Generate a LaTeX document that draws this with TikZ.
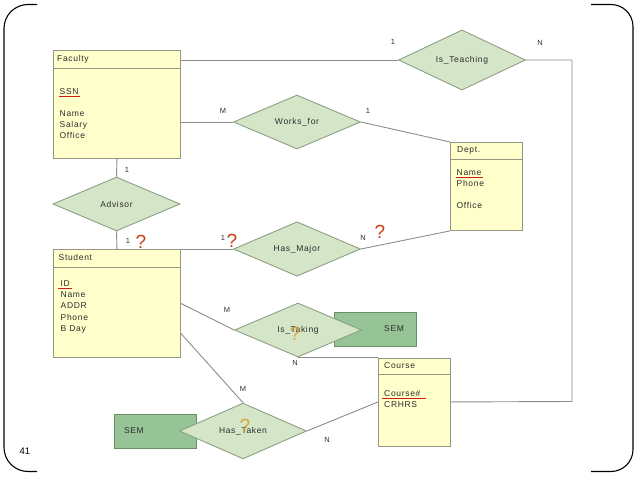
\documentclass[tikz,border=0pt]{standalone}
\usepackage{fontspec}
\setmainfont{Liberation Sans}
\newfontfamily\erfont{Liberation Sans}[LetterSpace=8]
\usetikzlibrary{shapes.geometric}

\definecolor{entfill}{RGB}{255,255,204}
\definecolor{entdraw}{RGB}{150,150,135}
\definecolor{relfill}{RGB}{212,229,200}
\definecolor{reldraw}{RGB}{140,160,130}
\definecolor{semfill}{RGB}{150,196,150}
\definecolor{semdraw}{RGB}{105,145,105}
\definecolor{linkgray}{RGB}{140,140,140}
\definecolor{keyred}{RGB}{205,30,20}
\definecolor{askred}{RGB}{200,60,20}
\definecolor{askgold}{RGB}{215,160,40}
\definecolor{txt}{RGB}{45,45,45}

\begin{document}
\begin{tikzpicture}[x=1pt, y=-1pt,
    entity/.style={draw=entdraw, fill=entfill, line width=0.9pt, inner sep=0pt,
      minimum width=127pt, minimum height=108pt, anchor=north west},
    etitle/.style={anchor=west, inner sep=0pt, text=txt, font=\erfont\fontsize{8.5}{10}\selectfont},
    eattr/.style={anchor=north west, inner sep=0pt, align=left, text=txt,
      font=\erfont\fontsize{8.5}{11.4}\selectfont},
    keyline/.style={draw=keyred, line width=0.8pt},
    rel/.style={diamond, draw=reldraw, fill=relfill, line width=0.9pt, inner sep=0pt,
      minimum width=127pt, minimum height=54pt, text=txt, font=\erfont\fontsize{8.5}{10}\selectfont},
    sembox/.style={draw=semdraw, fill=semfill, line width=0.9pt, inner ysep=0pt,
      minimum height=34pt, text=txt, font=\erfont\fontsize{8.5}{10}\selectfont},
    link/.style={draw=linkgray, line width=0.9pt},
    card/.style={inner sep=0pt, text=txt, font=\erfont\fontsize{7.5}{9}\selectfont},
    askr/.style={inner sep=0pt, text=askred, font=\fontsize{19}{20}\selectfont},
    askg/.style={inner sep=0pt, text=askgold, opacity=0.9, font=\fontsize{19}{20}\selectfont}]

  % slide frame
  \useasboundingbox (0,0) rectangle (638,479);
  \draw[line width=1.1pt, rounded corners=24pt] (37,4.5) -- (4,4.5) -- (4,471.5) -- (37,471.5);
  \draw[line width=1.1pt, rounded corners=22pt] (591,4.5) -- (633,4.5) -- (633,471.5) -- (591,471.5);
  \node[font=\fontsize{9.5}{10}\selectfont] (pageno) at (25,451) {41};

  % entities
  \node[entity] (fac) at (53,50) {};
  \draw[entdraw, line width=0.9pt] ([yshift=-18pt]fac.north west) -- ([yshift=-18pt]fac.north east);
  \node[etitle] (facT) at ([xshift=4pt, yshift=-9pt]fac.north west) {Faculty};
  \node[eattr] (facK) at ([xshift=6.5pt, yshift=-38pt]fac.north west) {SSN};
  \draw[keyline] ([xshift=-1pt, yshift=-2pt]facK.base west) -- ([xshift=1pt, yshift=-2pt]facK.base east);
  \node[eattr] (facA) at ([xshift=6.5pt, yshift=-60pt]fac.north west) {Name\\Salary\\Office};

  \node[entity, minimum width=72pt, minimum height=88pt] (dept) at (450,142) {};
  \draw[entdraw, line width=0.9pt] ([yshift=-17pt]dept.north west) -- ([yshift=-17pt]dept.north east);
  \node[etitle] (deptT) at ([xshift=7pt, yshift=-8.5pt]dept.north west) {Dept.};
  \node[eattr] (deptK) at ([xshift=6.5pt, yshift=-27pt]dept.north west) {Name};
  \draw[keyline] ([xshift=-1pt, yshift=-2pt]deptK.base west) -- ([xshift=1pt, yshift=-2pt]deptK.base east);
  \node[eattr] (deptA) at ([xshift=6.5pt, yshift=-38.5pt]dept.north west) {Phone\\[10.5pt]Office};

  \node[entity] (stu) at (53,249) {};
  \draw[entdraw, line width=0.9pt] ([yshift=-18pt]stu.north west) -- ([yshift=-18pt]stu.north east);
  \node[etitle] (stuT) at ([xshift=5.5pt, yshift=-8.5pt]stu.north west) {Student};
  \node[eattr] (stuK) at ([xshift=7.5pt, yshift=-31pt]stu.north west) {ID};
  \draw[keyline] ([xshift=-2.5pt, yshift=-2pt]stuK.base west) -- ([xshift=2pt, yshift=-2pt]stuK.base east);
  \node[eattr] (stuA) at ([xshift=7.5pt, yshift=-42.5pt]stu.north west) {Name\\ADDR\\Phone\\B Day};

  \node[entity, minimum width=72pt, minimum height=88pt] (course) at (378,357.5) {};
  \draw[entdraw, line width=0.9pt] ([yshift=-17pt]course.north west) -- ([yshift=-17pt]course.north east);
  \node[etitle] (courseT) at ([xshift=6pt, yshift=-8.5pt]course.north west) {Course};
  \node[eattr] (courseK) at ([xshift=6pt, yshift=-32.5pt]course.north west) {Course\#};
  \draw[keyline] ([xshift=-2pt, yshift=-2pt]courseK.base west) -- ([xshift=5pt, yshift=-2pt]courseK.base east);
  \node[eattr] (courseA) at ([xshift=6pt, yshift=-44pt]course.north west) {CRHRS};

  % weak parts
  \node[sembox, minimum width=82pt, text width=72pt, inner xsep=5pt, align=right] (semA) at (375,329) {SEM\hspace*{7pt}};
  \node[sembox, minimum width=82pt, text width=72pt, inner xsep=5pt, align=left] (semB) at (155,431) {\hspace*{5pt}SEM};

  % relationships
  \node[rel] (teach) at (462,60) {Is\_Teaching};
  \node[rel] (works) at (297,122) {Works\_for};
  \node[rel] (adv) at (116.5,204) {Advisor};
  \node[rel] (major) at (297,249) {Has\_Major};
  \node[rel] (taking) at (298,330) {Is\_Taking};
  \node[rel] (taken) at (243,431) {Has\_Taken};

  % connectors
  \coordinate (tcorner) at (572,401.5);
  \draw[link] (fac.east |- teach.west) -- (teach.west);
  \draw[link] (teach.east) -| (tcorner) -- (course.east);
  \draw[link] (fac.east |- works.west) -- (works.west);
  \draw[link] (works.east) -- (dept.north west);
  \draw[link] (fac.south) -- (adv.north);
  \draw[link] (adv.south) -- (stu.north);
  \draw[link] (stu.north east) -- (major.west);
  \draw[link] (major.east) -- (dept.south west);
  \draw[link] (stu.east) -- (taking.west);
  \draw[link] (taking.south) -- (course.north west);
  \draw[link] ([yshift=-30pt]stu.east) -- (taken.north);
  \draw[link] (taken.east) -- (course.west);

  % cardinalities
  \node[card] (c1) at (393,42) {1};
  \node[card] (c2) at (540,43) {N};
  \node[card] (c3) at (223,111) {M};
  \node[card] (c4) at (368,111) {1};
  \node[card] (c5) at (127,170) {1};
  \node[card] (c6) at (128,241) {1};
  \node[card] (c7) at (223,238) {1};
  \node[card] (c8) at (363,238) {N};
  \node[card] (c9) at (227,310) {M};
  \node[card] (c10) at (295,363) {N};
  \node[card] (c11) at (243,389) {M};
  \node[card] (c12) at (327,440) {N};

  % question marks
  \node[askr] (q1) at (141,242) {?};
  \node[askr] (q2) at (232,241) {?};
  \node[askr] (q3) at (380,232) {?};
  \node[askg] (q4) at (295,334) {?};
  \node[askg] (q5) at (245,426) {?};
\end{tikzpicture}
\end{document}
